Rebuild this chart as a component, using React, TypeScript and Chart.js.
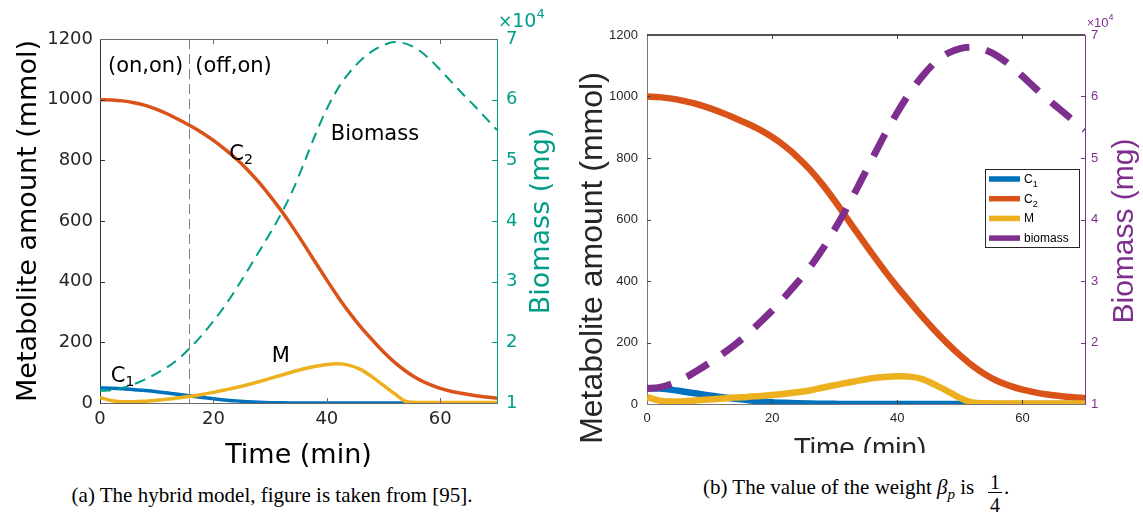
import React, { useEffect, useRef } from "react";
import { Chart, registerables } from "chart.js";

Chart.register(...registerables);

// Simulation time grid (min)
const timeMin = [0, 2, 4, 6, 8, 10, 12, 14, 16, 18, 20, 22, 24, 26, 28, 30, 32, 34, 36, 38, 40, 42, 44, 46, 48, 50, 52, 54, 56, 58, 60, 62, 64, 66, 68, 70];

// (a) hybrid model: metabolites (mmol) and biomass (x10^4 mg)
const hybridC1 = [50, 49, 47, 44, 41, 37, 33, 28, 23, 18, 14, 10, 7, 4.5, 2.5, 1.2, 0.5, 0.2, 0, 0, 0, 0, 0, 0, 0, 0, 0, 0, 0, 0, 0, 0, 0, 0, 0, 0];
const hybridC2 = [1000, 999, 996, 990, 981, 968, 952, 933, 913, 891, 866, 837, 805, 769, 728, 682, 633, 579, 522, 463, 405, 349, 297, 250, 208, 168, 133, 104, 80, 62, 48, 38, 31, 25, 20, 16];
const hybridM = [18, 8, 4, 4, 6, 9, 13, 17, 22, 28, 35, 43, 51, 60, 70, 81, 92, 103, 113, 121, 127, 129, 124, 110, 86, 58, 30, 5, 2, 2, 2, 2, 2, 2, 2, 2];
const hybridBiomass = [1.2, 1.21, 1.25, 1.31, 1.39, 1.49, 1.6, 1.74, 1.92, 2.12, 2.35, 2.6, 2.88, 3.18, 3.49, 3.8, 4.13, 4.51, 4.96, 5.43, 5.85, 6.19, 6.45, 6.65, 6.8, 6.9, 6.95, 6.92, 6.83, 6.68, 6.49, 6.29, 6.09, 5.9, 5.7, 5.5];

// (b) weighted model with beta_p = 1/4
const weightedC1 = [52, 50, 46, 40, 34, 28, 22, 17, 13, 9, 6, 4, 2.5, 1.5, 1, 0.5, 0, 0, 0, 0, 0, 0, 0, 0, 0, 0, 0, 0, 0, 0, 0, 0, 0, 0, 0, 0];
const weightedC2 = [1000, 998, 993, 985, 975, 962, 947, 930, 912, 892, 868, 839, 804, 763, 715, 661, 603, 545, 488, 433, 381, 332, 284, 239, 197, 159, 125, 97, 75, 59, 47, 38, 31, 26, 22, 19];
const weightedM = [22, 11, 8, 9, 12, 15, 18, 21, 23, 26, 29, 33, 38, 44, 53, 61, 69, 77, 84, 88, 90, 89, 81, 63, 42, 20, 5, 2.5, 2, 2, 2, 2, 2, 2, 2, 2];
const weightedBiomass = [1.25, 1.27, 1.33, 1.42, 1.54, 1.67, 1.81, 1.96, 2.13, 2.32, 2.52, 2.74, 2.97, 3.22, 3.51, 3.84, 4.2, 4.59, 4.99, 5.38, 5.74, 6.06, 6.33, 6.55, 6.7, 6.78, 6.8, 6.76, 6.66, 6.51, 6.33, 6.14, 5.96, 5.79, 5.62, 5.46];

// Controller switch from (on,on) to (off,on)
const switchTime = 15.7;

const timeTicks = [0, 20, 40, 60];
const amountTicks = [0, 200, 400, 600, 800, 1000, 1200];
const biomassTicks = [1, 2, 3, 4, 5, 6, 7];

const C1_COLOR = "#0072BD";
const C2_COLOR = "#D95319";
const M_COLOR = "#EDB120";
const TEAL = "#009E87";
const PURPLE = "#7E2F8E";

const DEJAVU = "'DejaVu Sans', sans-serif";
const ARIAL = "'Liberation Sans', Arial, sans-serif";
const SERIF = "'Liberation Serif', 'Times New Roman', serif";

const pts = (ys: number[]) => timeMin.map((t, i) => ({ x: t, y: ys[i] }));
const fixedTicks = (vals: number[]) => (s: any) => {
  s.ticks = vals.map((v) => ({ value: v }));
};
const crisp = (v: number) => Math.round(v) + 0.5;

function hLine(ctx: CanvasRenderingContext2D, x1: number, x2: number, y: number) {
  ctx.beginPath();
  ctx.moveTo(x1, y);
  ctx.lineTo(x2, y);
  ctx.stroke();
}
function vLine(ctx: CanvasRenderingContext2D, x: number, y1: number, y2: number) {
  ctx.beginPath();
  ctx.moveTo(x, y1);
  ctx.lineTo(x, y2);
  ctx.stroke();
}

type Run = { text: string; font: string; dy?: number };
function drawRuns(ctx: CanvasRenderingContext2D, runs: Run[], x: number, y: number, color: string) {
  ctx.save();
  ctx.fillStyle = color;
  ctx.textAlign = "left";
  ctx.textBaseline = "alphabetic";
  let cx = x;
  for (const r of runs) {
    ctx.font = r.font;
    ctx.fillText(r.text, cx, y + (r.dy || 0));
    cx += ctx.measureText(r.text).width;
  }
  ctx.restore();
}
function drawCentered(ctx: CanvasRenderingContext2D, text: string, x: number, y: number, font: string, color: string) {
  ctx.save();
  ctx.font = font;
  ctx.fillStyle = color;
  ctx.textAlign = "center";
  ctx.textBaseline = "alphabetic";
  ctx.fillText(text, x, y);
  ctx.restore();
}
// Vertical label reading bottom-to-top; x is the baseline, y the centre
function drawRotated(ctx: CanvasRenderingContext2D, text: string, x: number, y: number, font: string, color: string) {
  ctx.save();
  ctx.translate(x, y);
  ctx.rotate(-Math.PI / 2);
  ctx.font = font;
  ctx.fillStyle = color;
  ctx.textAlign = "center";
  ctx.textBaseline = "alphabetic";
  ctx.fillText(text, 0, 0);
  ctx.restore();
}

type TickStyle = { len: number; xColor: string; leftColor: string; rightColor: string };
function drawInwardTicks(chart: any, o: TickStyle) {
  const { ctx, chartArea: a, scales } = chart;
  ctx.save();
  ctx.lineWidth = 1;
  ctx.setLineDash([]);
  ctx.strokeStyle = o.xColor;
  timeTicks.forEach((v) => {
    const px = crisp(scales.x.getPixelForValue(v));
    if (px <= a.left + 1 || px >= a.right - 1) return;
    vLine(ctx, px, a.bottom, a.bottom - o.len);
    vLine(ctx, px, a.top, a.top + o.len);
  });
  ctx.strokeStyle = o.leftColor;
  amountTicks.forEach((v) => {
    const py = crisp(scales.y.getPixelForValue(v));
    if (py <= a.top + 1 || py >= a.bottom - 1) return;
    hLine(ctx, a.left, a.left + o.len, py);
  });
  ctx.strokeStyle = o.rightColor;
  biomassTicks.forEach((v) => {
    const py = crisp(scales.y1.getPixelForValue(v));
    if (py <= a.top + 1 || py >= a.bottom - 1) return;
    hLine(ctx, a.right - o.len, a.right, py);
  });
  ctx.restore();
}

const baseOptions = (pad: number) => ({
  responsive: false,
  animation: false,
  devicePixelRatio: 1,
  layout: { padding: { top: pad, left: 0, right: 0, bottom: 0 } },
  elements: {
    point: { radius: 0 },
    line: { cubicInterpolationMode: "monotone", fill: false, borderCapStyle: "butt" },
  },
  plugins: { legend: { display: false }, tooltip: { enabled: false } },
  events: [],
});

const plain = (v: any) => String(v);

// ---------- (a) hybrid model ----------
const hybridFrame = {
  id: "hybridFrame",
  beforeDatasetsDraw(chart: any) {
    const { ctx, chartArea: a, scales } = chart;
    ctx.save();
    ctx.strokeStyle = "#6a6a6a";
    ctx.lineWidth = 1;
    hLine(ctx, a.left, a.right, crisp(a.top));
    const sx = crisp(scales.x.getPixelForValue(switchTime));
    ctx.strokeStyle = "#808080";
    ctx.setLineDash([10, 5]);
    vLine(ctx, sx, a.top, a.bottom);
    ctx.restore();
  },
  afterDraw(chart: any) {
    const { ctx, chartArea: a, scales } = chart;
    drawInwardTicks(chart, { len: 5, xColor: "#6a6a6a", leftColor: "#333", rightColor: TEAL });
    const midY = (a.top + a.bottom) / 2;
    drawCentered(ctx, "Time (min)", (a.left + a.right) / 2, 463, `27px ${DEJAVU}`, "#000");
    drawRotated(ctx, "Metabolite amount (mmol)", 36, midY, `27px ${DEJAVU}`, "#000");
    drawRotated(ctx, "Biomass (mg)", 549, midY, `27px ${DEJAVU}`, TEAL);
    drawRuns(
      ctx,
      [
        { text: "×", font: `17px ${DEJAVU}` },
        { text: "10", font: `19px ${DEJAVU}` },
        { text: "4", font: `13px ${DEJAVU}`, dy: -9 },
      ],
      a.right + 1,
      27,
      TEAL
    );
    const at = (t: number, v: number): [number, number] => [scales.x.getPixelForValue(t), scales.y.getPixelForValue(v)];
    const big = `21px ${DEJAVU}`;
    const small = `14px ${DEJAVU}`;
    const notes: { runs: Run[]; t: number; v: number }[] = [
      { runs: [{ text: "(on,on)", font: big }], t: 1.4, v: 1090 },
      { runs: [{ text: "(off,on)", font: big }], t: 16.8, v: 1090 },
      { runs: [{ text: "C", font: big }, { text: "2", font: small, dy: 4 }], t: 22.8, v: 800 },
      { runs: [{ text: "Biomass", font: big }], t: 40.7, v: 867 },
      { runs: [{ text: "M", font: big }], t: 30.3, v: 135 },
      { runs: [{ text: "C", font: big }, { text: "1", font: small, dy: 4 }], t: 1.9, v: 70 },
    ];
    notes.forEach((n) => {
      const [px, py] = at(n.t, n.v);
      drawRuns(ctx, n.runs, px, py, "#000");
    });
  },
};

const hybridConfig: any = {
  type: "line",
  data: {
    datasets: [
      { label: "C1", data: pts(hybridC1), borderColor: C1_COLOR, borderWidth: 3.5, yAxisID: "y", order: 3 },
      { label: "C2", data: pts(hybridC2), borderColor: C2_COLOR, borderWidth: 3.5, yAxisID: "y", order: 2 },
      { label: "M", data: pts(hybridM), borderColor: M_COLOR, borderWidth: 3.5, yAxisID: "y", order: 1 },
      { label: "Biomass", data: pts(hybridBiomass), borderColor: TEAL, borderWidth: 2, borderDash: [11, 7], yAxisID: "y1", order: 0 },
    ],
  },
  options: {
    ...baseOptions(39),
    scales: {
      x: {
        type: "linear",
        min: 0,
        max: 70,
        afterBuildTicks: fixedTicks(timeTicks),
        afterFit: (s: any) => { s.height = 77; },
        grid: { display: false, drawTicks: false },
        border: { color: "#6a6a6a", width: 1 },
        ticks: { color: "#262626", font: { family: DEJAVU, size: 18 }, padding: 6, maxRotation: 0, autoSkip: false, callback: plain },
      },
      y: {
        position: "left",
        min: 0,
        max: 1200,
        afterBuildTicks: fixedTicks(amountTicks),
        afterFit: (s: any) => { s.width = 100; },
        grid: { display: false, drawTicks: false },
        border: { color: "#333", width: 1 },
        ticks: { color: "#262626", font: { family: DEJAVU, size: 18 }, padding: 7, callback: plain },
      },
      y1: {
        position: "right",
        min: 1,
        max: 7,
        afterBuildTicks: fixedTicks(biomassTicks),
        afterFit: (s: any) => { s.width = 73; },
        grid: { display: false, drawTicks: false },
        border: { color: TEAL, width: 1 },
        ticks: { color: TEAL, font: { family: DEJAVU, size: 18 }, padding: 9, callback: plain },
      },
    },
  },
  plugins: [hybridFrame],
};

// ---------- (b) weighted model ----------
const legendRows: { label: string; sub?: string; color: string }[] = [
  { label: "C", sub: "1", color: C1_COLOR },
  { label: "C", sub: "2", color: C2_COLOR },
  { label: "M", color: M_COLOR },
  { label: "biomass", color: PURPLE },
];

const weightedFrame = {
  id: "weightedFrame",
  beforeDatasetsDraw(chart: any) {
    const { ctx, chartArea: a } = chart;
    ctx.save();
    ctx.strokeStyle = "#1a1a1a";
    ctx.lineWidth = 1.5;
    hLine(ctx, a.left, a.right, a.top);
    ctx.restore();
  },
  afterDraw(chart: any) {
    const { ctx, chartArea: a } = chart;
    drawInwardTicks(chart, { len: 4, xColor: "#444", leftColor: "#444", rightColor: PURPLE });
    drawCentered(ctx, "Time (min)", 290, 457, `28px ${ARIAL}`, "#262626");
    drawRotated(ctx, "Metabolite amount (mmol)", 32, 258, `32px ${ARIAL}`, "#262626");
    drawRotated(ctx, "Biomass (mg)", 563, 231, `30px ${ARIAL}`, PURPLE);
    drawRuns(
      ctx,
      [
        { text: "×", font: `12px ${ARIAL}` },
        { text: "10", font: `13px ${ARIAL}` },
        { text: "4", font: `9px ${ARIAL}`, dy: -7 },
      ],
      a.right + 2,
      27,
      PURPLE
    );
    // legend box
    const bx = 415, by = 169, bw = 94, bh = 78;
    ctx.save();
    ctx.fillStyle = "#fff";
    ctx.fillRect(bx, by, bw, bh);
    ctx.strokeStyle = "#262626";
    ctx.lineWidth = 1;
    ctx.strokeRect(bx + 0.5, by + 0.5, bw, bh);
    legendRows.forEach((r, i) => {
      const cy = by + 10 + i * 19.7;
      ctx.strokeStyle = r.color;
      ctx.lineWidth = 5.5;
      ctx.lineCap = "butt";
      hLine(ctx, bx + 4, bx + 35, cy);
      const runs: Run[] = [{ text: r.label, font: `12px ${ARIAL}` }];
      if (r.sub) runs.push({ text: r.sub, font: `9px ${ARIAL}`, dy: 4 });
      drawRuns(ctx, runs, bx + 39, cy + 4, "#000");
    });
    ctx.restore();
  },
};

const weightedConfig: any = {
  type: "line",
  data: {
    datasets: [
      { label: "C1", data: pts(weightedC1), borderColor: C1_COLOR, borderWidth: 6.5, yAxisID: "y", order: 3 },
      { label: "C2", data: pts(weightedC2), borderColor: C2_COLOR, borderWidth: 6.5, yAxisID: "y", order: 2 },
      { label: "M", data: pts(weightedM), borderColor: M_COLOR, borderWidth: 6.5, yAxisID: "y", order: 1 },
      { label: "biomass", data: pts(weightedBiomass), borderColor: PURPLE, borderWidth: 7, borderDash: [25, 17], yAxisID: "y1", order: 0 },
    ],
  },
  options: {
    ...baseOptions(35),
    scales: {
      x: {
        type: "linear",
        min: 0,
        max: 70,
        afterBuildTicks: fixedTicks(timeTicks),
        afterFit: (s: any) => { s.height = 76; },
        grid: { display: false, drawTicks: false },
        border: { color: "#777", width: 1 },
        ticks: { color: "#262626", font: { family: ARIAL, size: 13 }, padding: 7, maxRotation: 0, autoSkip: false, callback: plain },
      },
      y: {
        position: "left",
        min: 0,
        max: 1200,
        afterBuildTicks: fixedTicks(amountTicks),
        afterFit: (s: any) => { s.width = 77; },
        grid: { display: false, drawTicks: false },
        border: { color: "#777", width: 1 },
        ticks: { color: "#262626", font: { family: ARIAL, size: 13 }, padding: 9, callback: plain },
      },
      y1: {
        position: "right",
        min: 1,
        max: 7,
        afterBuildTicks: fixedTicks(biomassTicks),
        afterFit: (s: any) => { s.width = 58; },
        grid: { display: false, drawTicks: false },
        border: { color: PURPLE, width: 1 },
        ticks: { color: PURPLE, font: { family: ARIAL, size: 13 }, padding: 6, callback: plain },
      },
    },
  },
  plugins: [weightedFrame],
};

function ChartCanvas({ width, height, config }: { width: number; height: number; config: any }) {
  const ref = useRef<HTMLCanvasElement>(null);
  useEffect(() => {
    const chart = new Chart(ref.current as HTMLCanvasElement, config);
    return () => chart.destroy();
  }, [config]);
  return <canvas ref={ref} width={width} height={height} style={{ display: "block", width, height }} />;
}

const caption = (size: number): React.CSSProperties => ({
  position: "absolute",
  fontFamily: SERIF,
  fontSize: size,
  lineHeight: `${size}px`,
  color: "#000",
  whiteSpace: "nowrap",
});

export default function App() {
  return (
    <div style={{ position: "absolute", left: 0, top: 0, width: 1143, height: 517, background: "#fff", overflow: "hidden" }}>
      <div style={{ position: "absolute", left: 0, top: 0 }}>
        <ChartCanvas width={570} height={480} config={hybridConfig} />
      </div>
      <div style={{ position: "absolute", left: 570, top: 0, width: 573, height: 453, overflow: "hidden" }}>
        <ChartCanvas width={573} height={480} config={weightedConfig} />
      </div>
      <div style={{ ...caption(21), left: 0, width: 544, top: 485, textAlign: "center" }}>
        (a) The hybrid model, figure is taken from [95].
      </div>
      <div style={{ ...caption(21), left: 703, top: 477 }}>
        (b) The value of the weight <i>β</i>
        <i style={{ position: "relative", top: 5, fontSize: 15 }}>p</i> is
      </div>
      <div style={{ ...caption(20), left: 988, width: 14, top: 472, textAlign: "center" }}>1</div>
      <div style={{ position: "absolute", left: 988, width: 14, top: 492, height: 1, background: "#000" }} />
      <div style={{ ...caption(20), left: 988, width: 14, top: 495, textAlign: "center" }}>4</div>
      <div style={{ ...caption(21), left: 1004, top: 477 }}>.</div>
    </div>
  );
}
